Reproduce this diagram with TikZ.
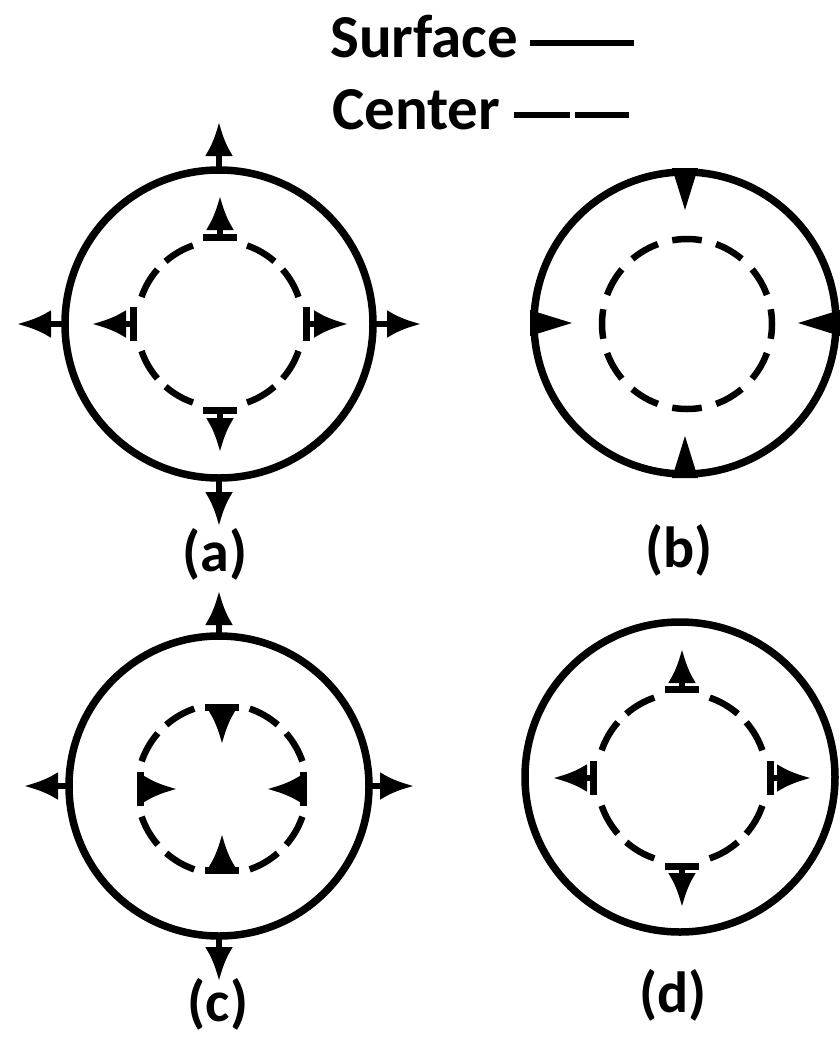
\documentclass[tikz,border=0pt]{standalone}
\usepackage{fontspec}
\setmainfont{Carlito}
\usetikzlibrary{arrows.meta,calc}
\begin{document}
\begin{tikzpicture}[x=1pt,y=-1pt,
  surf/.style={line width=7.5pt},
  dashseg/.style={line width=6.5pt},
  legline/.style={line width=6pt},
  outarrow/.style={line width=6pt,-{Latex[length=34pt,width=28pt]}},
  bararrow/.style={line width=6pt,{Bar[width=34pt,line width=7pt]}-{Latex[length=34pt,width=28pt]}},
  lbl/.style={font=\fontsize{58}{62}\selectfont\bfseries, inner sep=0pt},
  legend/.style={font=\fontsize{61}{64}\selectfont\bfseries, inner sep=0pt, anchor=base west},
]
\useasboundingbox (0,0) rectangle (839,1039);

% legend
\node[legend] (surftxt) at (330,57) {Surface};
\node[legend] (centtxt) at (332,129) {Center};
\coordinate (s1) at (530,43); \coordinate (s2) at (634,43);
\coordinate (c1) at (514,115); \coordinate (c2) at (629,115);
\draw[legline] (s1) -- (s2);
\draw[legline, dash pattern=on 56pt off 5pt on 60pt] (c1) -- (c2);

% centres
\coordinate (A) at (219,324);  \coordinate (Ai) at (220,324);
\coordinate (B) at (685,323);  \coordinate (Bi) at (687,324);
\coordinate (C) at (219,786);  \coordinate (Ci) at (222,789);
\coordinate (D) at (680,777);  \coordinate (Di) at (682,778);

% ---------- (a)
\draw[surf] (A) circle[radius=154pt];
\foreach \a in {30,60,120,150,210,240,300,330}
  \draw[dashseg] ([shift={(\a-11:83pt)}]Ai) arc[start angle=\a-11, end angle=\a+11, radius=83pt];
\foreach \a in {0,90,180,270}{
  \draw[outarrow] ([shift={(\a:154pt)}]A) -- ([shift={(\a:202pt)}]A);
  \draw[bararrow] ([shift={(\a:83pt)}]Ai) -- ([shift={(\a:128pt)}]Ai);
}
\node[lbl] (la) at (215,554) {(a)};

% ---------- (b)
\draw[surf] (B) circle[radius=151pt];
\foreach \a in {0,30,...,330}
  \draw[dashseg] ([shift={(\a-10:85pt)}]Bi) arc[start angle=\a-10, end angle=\a+10, radius=85pt];
\foreach \a in {0,90,180,270}
  \fill ($(B)+(\a:155pt)+(\a+90:13pt)$) -- ($(B)+(\a:113pt)$) -- ($(B)+(\a:155pt)+(\a-90:13pt)$) -- cycle;
\node[lbl] (lb) at (679,550) {(b)};

% ---------- (c)
\draw[surf] (C) circle[radius=150pt];
\foreach \a in {30,60,120,150,210,240,300,330}
  \draw[dashseg] ([shift={(\a-11:85pt)}]Ci) arc[start angle=\a-11, end angle=\a+11, radius=85pt];
\foreach \a in {0,90,180,270}{
  \draw[outarrow] ([shift={(\a:150pt)}]C) -- ([shift={(\a:195pt)}]C);
  \draw[bararrow] ([shift={(\a:85pt)}]Ci) -- ([shift={(\a:45pt)}]Ci);
}
\node[lbl] (lc) at (218,1004) {(c)};

% ---------- (d)
\draw[surf] (D) circle[radius=155pt];
\foreach \a in {30,60,120,150,210,240,300,330}
  \draw[dashseg] ([shift={(\a-11:85pt)}]Di) arc[start angle=\a-11, end angle=\a+11, radius=85pt];
\foreach \a in {0,90,180,270}
  \draw[bararrow] ([shift={(\a:85pt)}]Di) -- ([shift={(\a:129pt)}]Di);
\node[lbl] (ld) at (673,995) {(d)};
\end{tikzpicture}
\end{document}
